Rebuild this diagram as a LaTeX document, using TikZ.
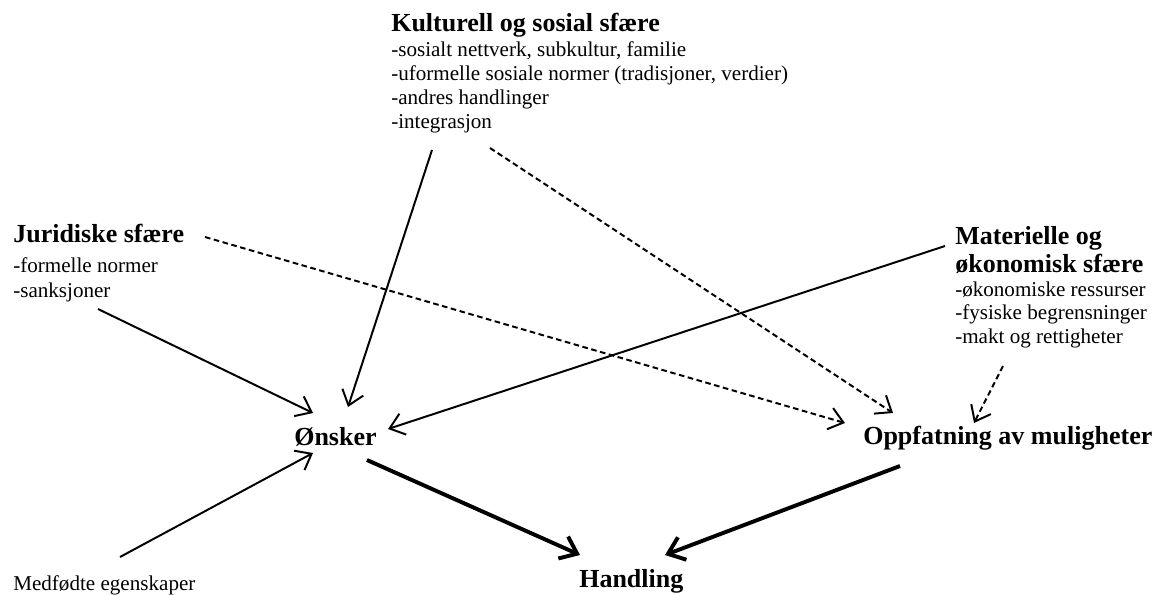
\documentclass[tikz,border=0pt]{standalone}
\usepackage{fontspec}
\setmainfont{Liberation Serif}
\usetikzlibrary{arrows.meta,positioning,calc}

\begin{document}
\begin{tikzpicture}[x=0.025cm,y=-0.025cm]
\tikzstyle{sphere} = [inner sep=0pt, anchor=base west, font=\fontsize{18.5}{20}\selectfont\bfseries, align=left]
\tikzstyle{items} = [inner sep=0pt, anchor=base west, font=\fontsize{15}{16.9}\selectfont, align=left]
\tikzstyle{target} = [inner sep=0pt, anchor=base west, font=\fontsize{18.5}{20}\selectfont\bfseries]
\tikzstyle{arrow} = [line width=1.4pt,-{Straight Barb[length=3.5mm,width=5.5mm]}]
\tikzstyle{dasharrow} = [arrow, dash pattern=on 4pt off 2.5pt]
\tikzstyle{thickarrow} = [line width=2.8pt,-{Straight Barb[length=3.8mm,width=6mm]}]

\useasboundingbox (0,0) rectangle (1160,594);

% spheres (multi-line nodes sit on their last baseline)
\node (kultur) [sphere] at (391,31) {Kulturell og sosial sfære};
\node (kulturtxt) [items] at (391,128) {-sosialt nettverk, subkultur, familie\\-uformelle sosiale normer (tradisjoner, verdier)\\-andres handlinger\\-integrasjon};
\node (jur) [sphere] at (13,242) {Juridiske sfære};
\node (jurtxt) [items, font=\fontsize{15}{17.1}\selectfont] at (13,297) {-formelle normer\\-sanksjoner};
\node (mat) [sphere, font=\fontsize{18.5}{19.9}\selectfont\bfseries] at (955,272) {Materielle og\\økonomisk sfære};
\node (mattxt) [items, font=\fontsize{15}{16.4}\selectfont] at (955,343) {-økonomiske ressurser\\-fysiske begrensninger\\-makt og rettigheter};
\node (medf) [items] at (13,590) {Medfødte egenskaper};

% targets
\node (onsker) [target] at (294,445) {Ønsker};
\node (oppf) [target] at (863,444) {Oppfatning av muligheter};
\node (handling) [target] at (579,587) {Handling};

\draw [arrow] ([shift={(41,119)}]kultur.base west) -- ([shift={(54,-38)}]onsker.base west);
\draw [dasharrow] ([shift={(99,117)}]kultur.base west) -- ([shift={(30,-31)}]oppf.base west);
\draw [dasharrow] ([shift={(192,-5)}]jur.base west) -- ([shift={(-18,-21)}]oppf.base west);
\draw [arrow] ([shift={(85,67)}]jur.base west) -- ([shift={(19,-32)}]onsker.base west);
\draw [arrow] ([shift={(-10,-26)}]mat.base west) -- ([shift={(94,-16)}]onsker.base west);
\draw [dasharrow] ([shift={(48,94)}]mat.base west) -- ([shift={(111,-21)}]oppf.base west);
\draw [arrow] ([shift={(107,-33)}]medf.base west) -- ([shift={(19,8)}]onsker.base west);
\draw [thickarrow] ([shift={(73,15)}]onsker.base west) -- ([shift={(1,-32)}]handling.base west);
\draw [thickarrow] ([shift={(37,22)}]oppf.base west) -- ([shift={(86,-32)}]handling.base west);

\end{tikzpicture}
\end{document}
